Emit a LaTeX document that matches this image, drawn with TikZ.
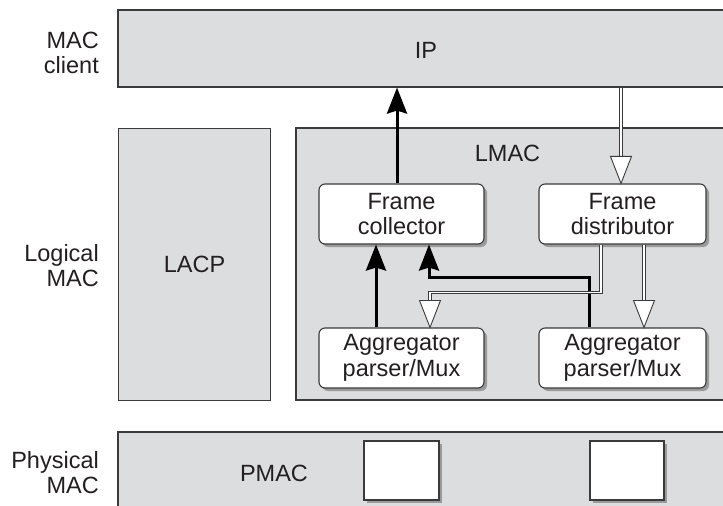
\documentclass[tikz,border=0pt]{standalone}
\usepackage{fontspec}
\setmainfont{Liberation Sans}
\usetikzlibrary{arrows.meta,shadows}
\definecolor{boxgray}{HTML}{DCDDDF}
\definecolor{edgegray}{HTML}{3A3A3A}
\definecolor{shadowgray}{HTML}{9A9A9A}
\definecolor{txt}{HTML}{231F20}
\begin{document}
\begin{tikzpicture}[x=1bp,y=-1bp,
  every node/.style={font=\fontsize{23.5bp}{25.5bp}\selectfont, text=txt, inner sep=0pt},
  gbox/.style={draw=edgegray, fill=boxgray, line width=1.1bp},
  wbox/.style={draw=edgegray, fill=white, line width=1.1bp, rounded corners=6bp, align=center,
    drop shadow={shadow xshift=3bp, shadow yshift=-3bp, fill=shadowgray, opacity=1}},
  sqbox/.style={draw=edgegray, fill=white, line width=1.1bp,
    drop shadow={shadow xshift=3bp, shadow yshift=-3bp, fill=shadowgray, opacity=1}},
  lbl/.style={anchor=east, align=right},
  barrow/.style={draw=black, line width=3bp, -{Stealth[length=26bp, width=20bp, inset=3bp]}},
  hshaft/.style={draw=edgegray, line width=0.9bp, double=white, double distance=1.8bp, shorten >=25bp},
  hhead/.style={draw=edgegray, fill=white, line width=0.9bp, line join=miter}
]
\useasboundingbox (0,0) rectangle (723,506);
\clip (0,0) rectangle (723,506);

% side labels
\node[lbl] (lclient) at (99,53) {MAC\\client};
\node[lbl] (llogical) at (99,265.5) {Logical\\MAC};
\node[lbl] (lphys) at (99,472.5) {Physical\\MAC};

% gray layers
\node[gbox, minimum width=622bp, minimum height=77bp] (ip) at (429,48.5) {};
\node (iptext) at (426,50) {IP};
\node[gbox, minimum width=152.5bp, minimum height=272.5bp] (lacp) at (194.5,264.5) {LACP};
\node[gbox, minimum width=444bp, minimum height=272bp] (lmac) at (518,264) {};
\node (lmactext) at (507.5,153) {LMAC};
\node[gbox, minimum width=622bp, minimum height=90bp] (pmac) at (429,477) {};
\node (pmactext) at (274,473) {PMAC};
\node[sqbox, minimum width=75bp, minimum height=59bp] (sq1) at (401.5,470.5) {};
\node[sqbox, minimum width=74bp, minimum height=59bp] (sq2) at (627,470.5) {};

% white function blocks
\node[wbox, minimum width=165bp, minimum height=60bp] (fc) at (401.5,214) {Frame\\collector};
\node[wbox, minimum width=167bp, minimum height=60bp] (fd) at (622.5,214) {Frame\\distributor};
\node[wbox, minimum width=165bp, minimum height=60bp] (a1) at (401.5,358) {Aggregator\\parser/Mux};
\node[wbox, minimum width=167bp, minimum height=60bp] (a2) at (622.5,358) {Aggregator\\parser/Mux};

% receive path (black)
\draw[barrow] ([xshift=-25.5bp]a1.north) -- ([xshift=-25.5bp]fc.south);
\draw[barrow] ([xshift=-33.5bp]a2.north) -- ++(0,-50) -| ([xshift=27.5bp]fc.south);
\draw[barrow] ([xshift=-4.5bp]fc.north) -- ([xshift=-4.5bp]fc.north |- ip.south);

% transmit path (hollow)
\coordinate (t1) at ([xshift=-1.5bp]fd.north);
\coordinate (t2) at ([xshift=28.5bp]a1.north);
\coordinate (t3) at ([xshift=21.5bp]a2.north);
\draw[hshaft] (t1 |- ip.south) -- (t1);
\draw[hshaft] ([xshift=-21.5bp]fd.south) -- ++(0,48) -| (t2);
\draw[hshaft] ([xshift=21.5bp]fd.south) -- (t3);
\foreach \t in {t1,t2,t3}
  \draw[hhead] (\t) -- ++(-10.5,-27) -- ++(21,0) -- cycle;
\end{tikzpicture}
\end{document}
